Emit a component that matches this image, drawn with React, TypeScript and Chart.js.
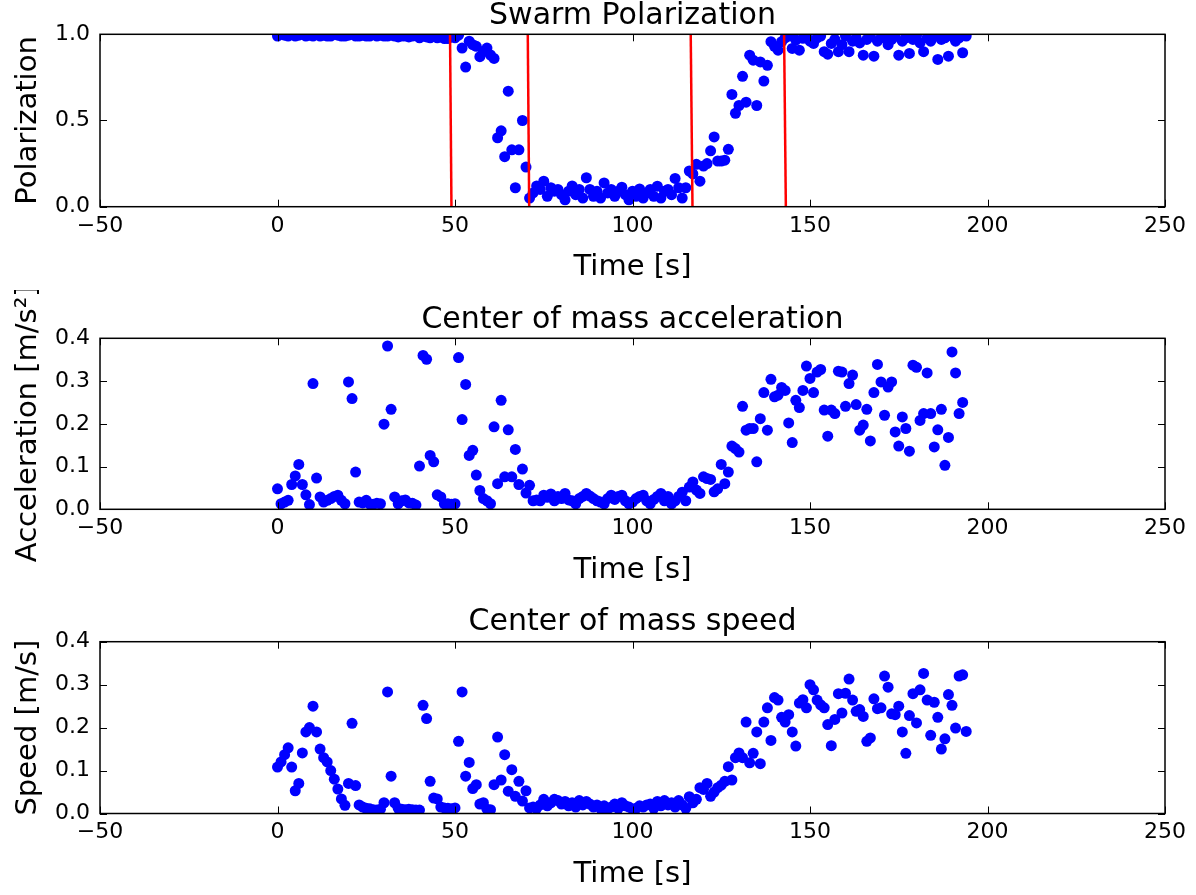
import React, { useEffect, useRef } from "react";
import { Chart, registerables } from "chart.js";

Chart.register(...registerables);

const FONT = '"DejaVu Sans", "Liberation Sans", sans-serif';

// ---- data ----
const times = [
  0, 1, 2, 3, 4, 5, 6, 7, 8, 9, 10, 11, 12, 13, 14, 15, 16, 17, 18, 19,
  20, 21, 22, 23, 24, 25, 26, 27, 28, 29, 30, 31, 32, 33, 34, 35, 36, 37, 38, 39,
  40, 41, 42, 43, 44, 45, 46, 47, 48, 49, 50, 51, 52, 53, 54, 55, 56, 57, 58, 59,
  60, 61, 62, 63, 64, 65, 66, 67, 68, 69, 70, 71, 72, 73, 74, 75, 76, 77, 78, 79,
  80, 81, 82, 83, 84, 85, 86, 87, 88, 89, 90, 91, 92, 93, 94, 95, 96, 97, 98, 99,
  100, 101, 102, 103, 104, 105, 106, 107, 108, 109, 110, 111, 112, 113, 114, 115, 116, 117, 118, 119,
  120, 121, 122, 123, 124, 125, 126, 127, 128, 129, 130, 131, 132, 133, 134, 135, 136, 137, 138, 139,
  140, 141, 142, 143, 144, 145, 146, 147, 148, 149, 150, 151, 152, 153, 154, 155, 156, 157, 158, 159,
  160, 161, 162, 163, 164, 165, 166, 167, 168, 169, 170, 171, 172, 173, 174, 175, 176, 177, 178, 179,
  180, 181, 182, 183, 184, 185, 186, 187, 188, 189, 190, 191, 192, 193, 194,
];

const polarization = [
  0.99, 1.0, 0.995, 0.99, 1.0, 0.99, 0.995, 1.0, 0.99, 0.995,
  0.99, 1.0, 0.99, 0.995, 0.99, 0.99, 1.0, 0.995, 0.99, 0.99,
  0.995, 1.0, 0.99, 0.99, 0.995, 0.99, 0.99, 1.0, 0.99, 0.995,
  0.99, 0.99, 0.995, 0.99, 0.985, 0.99, 0.99, 0.985, 0.99, 0.995,
  0.98, 0.99, 0.985, 0.98, 0.99, 0.98, 0.985, 0.975, 0.975, 0.99,
  0.98, 0.995, 0.92, 0.81, 0.96, 0.94, 0.93, 0.87, 0.9, 0.92,
  0.88, 0.86, 0.4, 0.44, 0.29, 0.67, 0.33, 0.11, 0.33, 0.5,
  0.23, 0.05, 0.08, 0.12, 0.1, 0.148, 0.06, 0.11, 0.09, 0.1,
  0.07, 0.04, 0.09, 0.12, 0.07, 0.1, 0.05, 0.168, 0.1, 0.06,
  0.09, 0.05, 0.138, 0.08, 0.1, 0.06, 0.09, 0.113, 0.07, 0.04,
  0.09, 0.06, 0.103, 0.05, 0.08, 0.1, 0.06, 0.119, 0.05, 0.09,
  0.1, 0.07, 0.164, 0.11, 0.05, 0.11,
  0.207, 0.19, 0.246, 0.148, 0.236, 0.25, 0.324, 0.405, 0.265, 0.265,
  0.27, 0.333, 0.651, 0.542, 0.587, 0.756, 0.606, 0.879, 0.85, 0.587,
  0.84, 0.729, 0.82, 0.957, 0.93, 0.908, 0.957, 0.98, 0.99, 0.918,
  0.967, 0.908, 0.977, 0.99, 0.96, 0.947, 0.98, 0.99, 0.899, 0.885,
  0.947, 0.97, 0.899, 0.94, 0.99, 0.899, 0.96, 0.98, 0.95, 0.879,
  0.97, 0.99, 0.873, 0.96, 0.98, 0.99, 0.94, 0.97, 0.99, 0.879,
  0.96, 0.98, 0.889, 0.97, 0.99, 0.95, 0.899, 0.98, 0.96, 0.99,
  0.854, 0.97, 0.98, 0.873, 0.99, 0.96, 0.98, 0.893, 0.99,
];

const acceleration = [
  0.048, 0.013, 0.017, 0.021, 0.058, 0.078, 0.105, 0.058, 0.034, 0.011,
  0.294, 0.073, 0.029, 0.017, 0.021, 0.025, 0.03, 0.033, 0.021, 0.013,
  0.298, 0.259, 0.087, 0.017, 0.015, 0.021, 0.012, 0.012, 0.014, 0.013,
  0.199, 0.382, 0.234, 0.029, 0.013, 0.02, 0.022, 0.015, 0.014, 0.01,
  0.101, 0.36, 0.351, 0.126, 0.111, 0.034, 0.029, 0.013, 0.013, 0.012,
  0.013, 0.355, 0.21, 0.292, 0.126, 0.138, 0.08, 0.044, 0.025, 0.02,
  0.013, 0.193, 0.06, 0.255, 0.076, 0.186, 0.076, 0.14, 0.058, 0.094,
  0.038, 0.056, 0.02, 0.022, 0.02, 0.033, 0.028, 0.036, 0.02,
  0.03, 0.025, 0.037, 0.022, 0.02, 0.013, 0.025, 0.03, 0.037, 0.031,
  0.025, 0.02, 0.017, 0.013, 0.025, 0.033, 0.023, 0.03, 0.033, 0.02,
  0.013, 0.017, 0.025, 0.03, 0.033, 0.02, 0.013, 0.023, 0.03, 0.037,
  0.02, 0.03, 0.013, 0.02, 0.03, 0.04, 0.02,
  0.052, 0.064, 0.045, 0.037, 0.076, 0.072, 0.07, 0.041, 0.048, 0.105,
  0.06, 0.087, 0.148, 0.142, 0.134, 0.241, 0.185, 0.189, 0.189, 0.111,
  0.212, 0.273, 0.185, 0.304, 0.263, 0.267, 0.285, 0.278, 0.202, 0.156,
  0.255, 0.238, 0.278, 0.335, 0.306, 0.273, 0.321,
  0.327, 0.232, 0.171, 0.232, 0.224, 0.323, 0.321, 0.241, 0.294, 0.314,
  0.245, 0.185, 0.197, 0.234, 0.16, 0.273, 0.339, 0.298, 0.22, 0.286,
  0.298, 0.181, 0.148, 0.216, 0.189, 0.136, 0.337, 0.332, 0.208, 0.224,
  0.319, 0.224, 0.146, 0.186, 0.234, 0.103, 0.168, 0.368, 0.319, 0.224,
  0.25,
];

const speed = [
  0.108, 0.12, 0.137, 0.153, 0.108, 0.053, 0.07, 0.141, 0.19, 0.2,
  0.25, 0.19, 0.15, 0.13, 0.12, 0.1, 0.08, 0.057, 0.034, 0.019,
  0.07, 0.21, 0.065, 0.02, 0.015, 0.012, 0.011, 0.009, 0.008, 0.01,
  0.025, 0.283, 0.087, 0.025, 0.012, 0.01, 0.009, 0.01, 0.009, 0.008,
  0.008, 0.252, 0.221, 0.075, 0.036, 0.034, 0.015, 0.013, 0.012, 0.011,
  0.013, 0.168, 0.283, 0.087, 0.119, 0.058, 0.067, 0.022, 0.025, 0.01,
  0.009, 0.067, 0.178, 0.078, 0.137, 0.052, 0.102, 0.04, 0.075, 0.029,
  0.053, 0.013, 0.015, 0.012, 0.02, 0.033, 0.018, 0.025, 0.033,
  0.03, 0.022, 0.028, 0.018, 0.025, 0.015, 0.03, 0.02, 0.028, 0.022,
  0.015, 0.02, 0.012, 0.018, 0.01, 0.015, 0.022, 0.012, 0.025, 0.018,
  0.015, 0.01, 0.012, 0.018, 0.015, 0.02, 0.022, 0.012, 0.028, 0.018,
  0.03, 0.02, 0.025, 0.015, 0.03, 0.02, 0.012,
  0.039, 0.025, 0.033, 0.06, 0.056, 0.07, 0.04, 0.05, 0.06, 0.066,
  0.075, 0.109, 0.078, 0.13, 0.141, 0.13, 0.213, 0.118, 0.14, 0.19,
  0.116, 0.213, 0.246, 0.17, 0.27, 0.264, 0.224, 0.213, 0.23, 0.19,
  0.157, 0.257, 0.265, 0.246, 0.3, 0.288, 0.264, 0.253, 0.246, 0.207,
  0.158, 0.219, 0.279, 0.234, 0.28, 0.313, 0.264, 0.238, 0.242, 0.226,
  0.168, 0.176, 0.267, 0.244, 0.246, 0.32, 0.294, 0.232, 0.23, 0.25,
  0.19, 0.14, 0.228, 0.279, 0.211, 0.288, 0.326, 0.264, 0.182, 0.259,
  0.224, 0.15, 0.174, 0.277, 0.252, 0.199, 0.32, 0.323, 0.191,
];

// red transition markers: time at top (y=1) and bottom (y=0)
const markerTimeTop = [48.6, 70.5, 116.4, 142.7];
const markerTimeBottom = [49.0, 70.9, 116.9, 143.2];

const xTicks = [-50, 0, 50, 100, 150, 200, 250];

// ---- plugin: matplotlib-like frame with inward ticks ----
const framePlugin = {
  id: "mplFrame",
  afterDraw(chart: any) {
    const { ctx, chartArea: a, scales } = chart;
    const L = 7;
    ctx.save();
    ctx.strokeStyle = "#000";
    ctx.lineWidth = 1;
    const seg = (x1: number, y1: number, x2: number, y2: number) => {
      ctx.beginPath();
      ctx.moveTo(x1, y1);
      ctx.lineTo(x2, y2);
      ctx.stroke();
    };
    scales.x.ticks.forEach((t: any) => {
      const px = Math.round(scales.x.getPixelForValue(t.value)) + 0.5;
      seg(px, a.bottom, px, a.bottom - L);
      seg(px, a.top, px, a.top + L);
    });
    scales.y.ticks.forEach((t: any) => {
      const py = Math.round(scales.y.getPixelForValue(t.value)) + 0.5;
      seg(a.left, py, a.left + L, py);
      seg(a.right, py, a.right - L, py);
    });
    ctx.lineWidth = 1.5;
    ctx.strokeRect(a.left, a.top, a.right - a.left, a.bottom - a.top);
    ctx.restore();
  },
};

type PanelProps = {
  top: number;
  height: number;
  title: string;
  yTitle: string;
  yMax: number;
  yStep: number;
  values: number[];
  titlePadTop: number;
  titlePadBottom: number;
  padBottom: number;
  markers?: boolean;
};

// canvas is wider than the window so the (canvas-centred) title lands over the plot centre
const CANVAS_W = 1296;

function Panel(p: PanelProps) {
  const ref = useRef<HTMLCanvasElement | null>(null);
  useEffect(() => {
    if (!ref.current) return;
    const points = p.values.map((v, i) => ({ x: times[i], y: v }));
    const datasets: any[] = [];
    if (p.markers) {
      markerTimeTop.forEach((tt, i) => {
        datasets.push({
          type: "line",
          data: [
            { x: tt, y: 1 },
            { x: markerTimeBottom[i], y: 0 },
          ],
          borderColor: "#ff0000",
          borderWidth: 2.5,
          pointRadius: 0,
          fill: false,
          clip: 0,
        });
      });
    }
    datasets.push({
      type: "scatter",
      data: points,
      backgroundColor: "#0000ff",
      borderWidth: 0,
      pointRadius: 5.5,
      pointHoverRadius: 5.5,
      clip: 0,
    });
    const chart = new Chart(ref.current, {
      type: "scatter",
      data: { datasets },
      plugins: [framePlugin],
      options: {
        responsive: false,
        animation: false,
        events: [],
        layout: { padding: { left: 0, right: 31, top: 0, bottom: p.padBottom } },
        plugins: {
          legend: { display: false },
          tooltip: { enabled: false },
          title: {
            display: true,
            text: p.title,
            color: "#000",
            font: { family: FONT, size: 30, weight: "normal", lineHeight: 1 },
            padding: { top: p.titlePadTop, bottom: p.titlePadBottom },
          },
        },
        scales: {
          x: {
            type: "linear",
            min: -50,
            max: 250,
            afterBuildTicks: (s: any) => {
              s.ticks = xTicks.map((v) => ({ value: v }));
            },
            grid: { display: false, drawTicks: false },
            border: { display: false },
            ticks: {
              color: "#000",
              padding: 6,
              maxRotation: 0,
              autoSkip: false,
              font: { family: FONT, size: 22, lineHeight: 1.2 },
              callback: (v: any) => (Number(v) < 0 ? "\u2212" + Math.abs(Number(v)) : String(v)),
            },
            title: {
              display: true,
              text: "Time [s]",
              color: "#000",
              font: { family: FONT, size: 29, lineHeight: 1 },
              padding: { top: 0, bottom: 0 },
            },
            afterFit: (s: any) => {
              s.height = 75.3;
            },
          },
          y: {
            type: "linear",
            position: "left",
            min: 0,
            max: p.yMax,
            grid: { display: false, drawTicks: false },
            border: { display: false },
            ticks: {
              color: "#000",
              padding: 10,
              stepSize: p.yStep,
              font: { family: FONT, size: 22, lineHeight: 1.2 },
              callback: (v: any) => Number(v).toFixed(1),
            },
            title: {
              display: true,
              text: p.yTitle,
              color: "#000",
              font: { family: FONT, size: 29, lineHeight: 1 },
              padding: { top: 14, bottom: 0 },
            },
            afterFit: (s: any) => {
              s.width = 100;
            },
          },
          ySpacer: {
            type: "linear",
            position: "right",
            display: true,
            min: 0,
            max: 1,
            grid: { display: false, drawTicks: false },
            border: { display: false },
            ticks: { display: false },
            afterFit: (s: any) => {
              s.width = 100;
            },
          },
        },
      } as any,
    });
    return () => chart.destroy();
  }, []);
  return (
    <div style={{ position: "absolute", left: 0, top: p.top, width: CANVAS_W, height: p.height }}>
      <canvas ref={ref} width={CANVAS_W} height={p.height} style={{ width: CANVAS_W, height: p.height, display: "block" }} />
    </div>
  );
}

export default function App() {
  return (
    <div style={{ position: "absolute", left: 0, top: 0, width: 1196, height: 895, background: "#fff", overflow: "hidden" }}>
      <Panel
        top={0}
        height={290}
        title="Swarm Polarization"
        yTitle="Polarization"
        yMax={1}
        yStep={0.5}
        values={polarization}
        titlePadTop={1.5}
        titlePadBottom={2.8}
        padBottom={8}
        markers
      />
      <Panel
        top={290}
        height={300}
        title="Center of mass acceleration"
        yTitle="Acceleration [m/s²]"
        yMax={0.4}
        yStep={0.1}
        values={acceleration}
        titlePadTop={15}
        titlePadBottom={3.3}
        padBottom={5.4}
      />
      <Panel
        top={590}
        height={305}
        title="Center of mass speed"
        yTitle="Speed [m/s]"
        yMax={0.4}
        yStep={0.1}
        values={speed}
        titlePadTop={17.5}
        titlePadBottom={4.2}
        padBottom={6.2}
      />
    </div>
  );
}
